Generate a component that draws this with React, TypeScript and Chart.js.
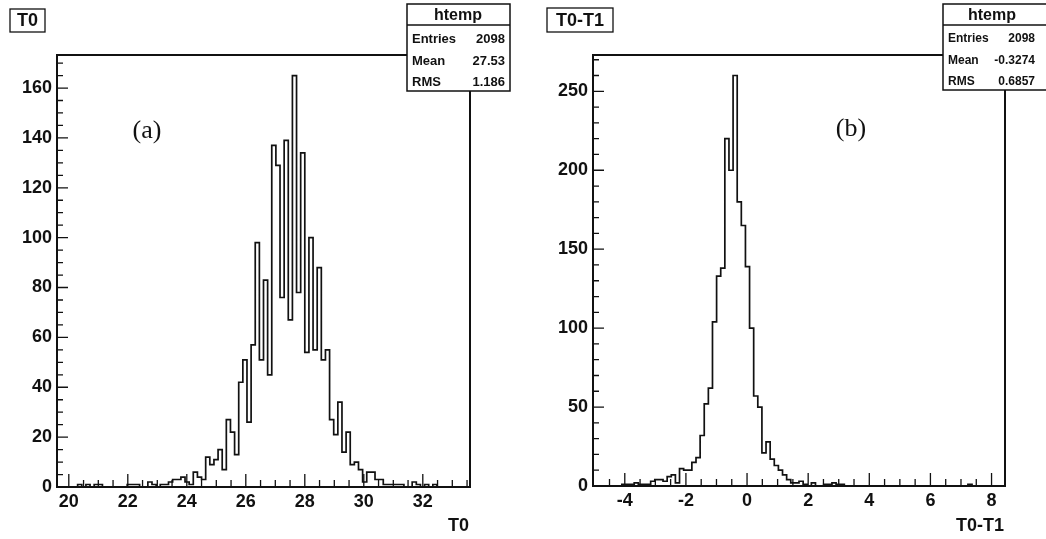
import React, { useEffect, useRef } from "react";
import { Chart, registerables } from "chart.js";

Chart.register(...registerables);

const W = 1046;
const H = 539;

// ---------- Panel (a): T0 ----------
const T0_RANGE = [19.6, 33.6];
const T0_COUNTS = [
  0, 0, 0, 0, 0, 0, 1, 0, 1, 0,
  1, 1, 0, 0, 0, 0, 0, 0, 1, 1,
  1, 0, 0, 2, 1, 0, 1, 1, 2, 3,
  3, 4, 2, 1, 6, 4, 3, 12, 9, 11,
  15, 7, 27, 22, 13, 42, 51, 26, 57, 98,
  51, 83, 45, 137, 129, 76, 139, 67, 165, 78,
  134, 54, 100, 55, 88, 51, 55, 27, 21, 34,
  14, 22, 9, 10, 7, 2, 6, 6, 3, 3,
  1, 1, 1, 1, 1, 0, 0, 2, 1, 0,
  1, 0, 1, 0, 0, 0, 0, 0, 0, 0,
];
const T0_X_LABELS = [20, 22, 24, 26, 28, 30, 32];
const T0_Y_LABELS = [0, 20, 40, 60, 80, 100, 120, 140, 160];
const T0_STATS = [
  ["Entries", "2098"],
  ["Mean", "27.53"],
  ["RMS", "1.186"],
];

// ---------- Panel (b): T0-T1 ----------
const DIFF_RANGE = [-5.04, 8.44];
const DIFF_COUNTS = [
  0, 0, 0, 0, 0, 0, 0, 0, 1, 1,
  1, 2, 1, 1, 1, 3, 4, 4, 3, 6,
  7, 2, 11, 10, 10, 15, 18, 32, 52, 62,
  104, 133, 138, 220, 200, 260, 180, 165, 139, 100,
  57, 50, 21, 28, 17, 13, 10, 7, 4, 2,
  2, 3, 1, 0, 2, 0, 0, 1, 1, 2,
  1, 1, 0, 0, 0, 0, 0, 0, 0, 0,
  0, 0, 0, 0, 0, 0, 0, 0, 0, 0,
  0, 0, 0, 0, 0, 0, 0, 0, 0, 0,
  0, 0, 1, 0, 0, 0, 0, 0, 0, 0,
];
const DIFF_X_LABELS = [-4, -2, 0, 2, 4, 6, 8];
const DIFF_Y_LABELS = [0, 50, 100, 150, 200, 250];
const DIFF_STATS = [
  ["Entries", "2098"],
  ["Mean", "-0.3274"],
  ["RMS", "0.6857"],
];

const SANS = "'Liberation Sans', Arial, Helvetica, sans-serif";
const SERIF = "'Liberation Serif', 'Times New Roman', serif";
const INK = "#111";
const Y_AXIS_W = 50;
const X_AXIS_H = 40;

function histPoints(range: number[], counts: number[]) {
  const n = counts.length;
  const w = (range[1] - range[0]) / n;
  const pts = counts.map((c, i) => ({ x: range[0] + i * w, y: c }));
  pts.push({ x: range[1], y: counts[n - 1] });
  return pts;
}

type Panel = {
  key: string;
  area: { left: number; top: number; right: number; bottom: number };
  range: number[];
  counts: number[];
  xLabels: number[];
  yLabels: number[];
  xMinor: number;
  yMinor: number;
  title: string;
  titleBox: { x: number; y: number; w: number; h: number };
  stats: string[][];
  statsBox: { x: number; y: number; w: number; h: number; headCx: number; valRight: number; font: number };
  tag: string;
  tagPos: { x: number; y: number };
  axisTitle: string;
};

const PANELS: Panel[] = [
  {
    key: "a",
    area: { left: 57, top: 55, right: 470, bottom: 487 },
    range: T0_RANGE,
    counts: T0_COUNTS,
    xLabels: T0_X_LABELS,
    yLabels: T0_Y_LABELS,
    xMinor: 0.5,
    yMinor: 5,
    title: "T0",
    titleBox: { x: 10, y: 9, w: 35, h: 23 },
    stats: T0_STATS,
    statsBox: { x: 407, y: 4, w: 103, h: 87, headCx: 458, valRight: 505, font: 13 },
    tag: "(a)",
    tagPos: { x: 147, y: 131 },
    axisTitle: "T0",
  },
  {
    key: "b",
    area: { left: 593, top: 55, right: 1005, bottom: 486 },
    range: DIFF_RANGE,
    counts: DIFF_COUNTS,
    xLabels: DIFF_X_LABELS,
    yLabels: DIFF_Y_LABELS,
    xMinor: 0.5,
    yMinor: 10,
    title: "T0-T1",
    titleBox: { x: 547, y: 8, w: 66, h: 24 },
    stats: DIFF_STATS,
    statsBox: { x: 943, y: 4, w: 110, h: 86, headCx: 992, valRight: 1035, font: 12 },
    tag: "(b)",
    tagPos: { x: 851, y: 129 },
    axisTitle: "T0-T1",
  },
];

function decorPlugin(p: Panel) {
  return {
    id: "decor_" + p.key,
    afterDraw(chart: any) {
      const ctx = chart.ctx as CanvasRenderingContext2D;
      const { left, right, top, bottom } = chart.chartArea;
      const xs = chart.scales.x;
      const ys = chart.scales.y;
      ctx.save();
      ctx.strokeStyle = INK;
      ctx.fillStyle = INK;

      // inward ticks
      ctx.lineWidth = 1.3;
      ctx.beginPath();
      const x0 = Math.ceil(xs.min / p.xMinor) * p.xMinor;
      for (let k = 0; x0 + k * p.xMinor <= xs.max + 1e-9; k++) {
        const v = x0 + k * p.xMinor;
        const px = xs.getPixelForValue(v);
        if (px < left + 1.5 || px > right - 1.5) continue;
        const major = p.xLabels.some((l) => Math.abs(l - v) < 1e-6);
        ctx.moveTo(px, bottom);
        ctx.lineTo(px, bottom - (major ? 13 : 7));
      }
      for (let k = 1; k * p.yMinor <= ys.max + 1e-9; k++) {
        const v = k * p.yMinor;
        const py = ys.getPixelForValue(v);
        if (py < top + 1.5) continue;
        const major = p.yLabels.some((l) => Math.abs(l - v) < 1e-6);
        ctx.moveTo(left, py);
        ctx.lineTo(left + (major ? 11 : 6), py);
      }
      ctx.stroke();

      // frame
      ctx.lineWidth = 2;
      ctx.strokeRect(left, top, right - left, bottom - top);

      // title box
      const tb = p.titleBox;
      ctx.lineWidth = 1.3;
      ctx.fillStyle = "#fff";
      ctx.fillRect(tb.x, tb.y, tb.w, tb.h);
      ctx.strokeRect(tb.x, tb.y, tb.w, tb.h);
      ctx.fillStyle = INK;
      ctx.font = `bold 18px ${SANS}`;
      ctx.textAlign = "center";
      ctx.textBaseline = "middle";
      ctx.fillText(p.title, tb.x + tb.w / 2, tb.y + tb.h / 2 + 1);

      // stats box
      const sb = p.statsBox;
      ctx.fillStyle = "#fff";
      ctx.fillRect(sb.x, sb.y, sb.w, sb.h);
      ctx.lineWidth = 1.5;
      ctx.strokeRect(sb.x, sb.y, sb.w, sb.h);
      ctx.beginPath();
      ctx.moveTo(sb.x, 25);
      ctx.lineTo(sb.x + sb.w, 25);
      ctx.stroke();
      ctx.fillStyle = INK;
      ctx.font = `bold 16px ${SANS}`;
      ctx.textAlign = "center";
      ctx.fillText("htemp", sb.headCx, 16);
      ctx.font = `bold ${sb.font}px ${SANS}`;
      const rowsY = [39, 61, 82];
      p.stats.forEach((row, i) => {
        ctx.textAlign = "left";
        ctx.fillText(row[0], sb.x + 5, rowsY[i]);
        ctx.textAlign = "right";
        ctx.fillText(row[1], sb.valRight, rowsY[i]);
      });

      // tag (a)/(b)
      ctx.font = `26px ${SERIF}`;
      ctx.textAlign = "center";
      ctx.fillText(p.tag, p.tagPos.x, p.tagPos.y);

      // axis title
      ctx.font = `bold 18px ${SANS}`;
      ctx.textAlign = "right";
      ctx.fillText(p.axisTitle, right - 1, 526);

      ctx.restore();
    },
  };
}

function PanelChart({ p }: { p: Panel }) {
  const ref = useRef<HTMLCanvasElement | null>(null);
  useEffect(() => {
    if (!ref.current) return;
    const ymax = Math.max(...p.counts) * 1.05;
    const font = { family: SANS, size: 18, weight: "bold" as const };
    const chart = new Chart(ref.current, {
      type: "scatter",
      data: {
        datasets: [
          {
            data: histPoints(p.range, p.counts),
            showLine: true,
            stepped: "after",
            borderColor: INK,
            borderWidth: 1.7,
            pointRadius: 0,
            fill: false,
          } as any,
        ],
      },
      options: {
        animation: false,
        responsive: false,
        devicePixelRatio: 1,
        layout: {
          padding: {
            left: p.area.left - Y_AXIS_W,
            top: p.area.top,
            right: W - p.area.right,
            bottom: H - p.area.bottom - X_AXIS_H,
          },
        },
        plugins: { legend: { display: false }, tooltip: { enabled: false } },
        scales: {
          x: {
            type: "linear",
            min: p.range[0],
            max: p.range[1],
            grid: { display: false, drawTicks: false },
            border: { display: false },
            afterFit: (s: any) => {
              s.height = X_AXIS_H;
            },
            afterBuildTicks: (s: any) => {
              s.ticks = p.xLabels.map((v) => ({ value: v }));
            },
            ticks: {
              font,
              color: INK,
              padding: 4,
              maxRotation: 0,
              autoSkip: false,
              callback: (v: any) => String(v),
            },
          },
          y: {
            type: "linear",
            min: 0,
            max: ymax,
            grid: { display: false, drawTicks: false },
            border: { display: false },
            afterFit: (s: any) => {
              s.width = Y_AXIS_W;
            },
            afterBuildTicks: (s: any) => {
              s.ticks = p.yLabels.map((v) => ({ value: v }));
            },
            ticks: {
              font,
              color: INK,
              padding: 5,
              autoSkip: false,
              callback: (v: any) => String(v),
            },
          },
        },
      },
      plugins: [decorPlugin(p)],
    });
    return () => chart.destroy();
  }, [p]);
  return (
    <canvas
      ref={ref}
      width={W}
      height={H}
      style={{ position: "absolute", left: 0, top: 0, width: W, height: H }}
    />
  );
}

export default function App() {
  return (
    <div
      style={{
        position: "absolute",
        left: 0,
        top: 0,
        width: W,
        height: H,
        background: "#fff",
        overflow: "hidden",
      }}
    >
      {PANELS.map((p) => (
        <PanelChart key={p.key} p={p} />
      ))}
    </div>
  );
}
